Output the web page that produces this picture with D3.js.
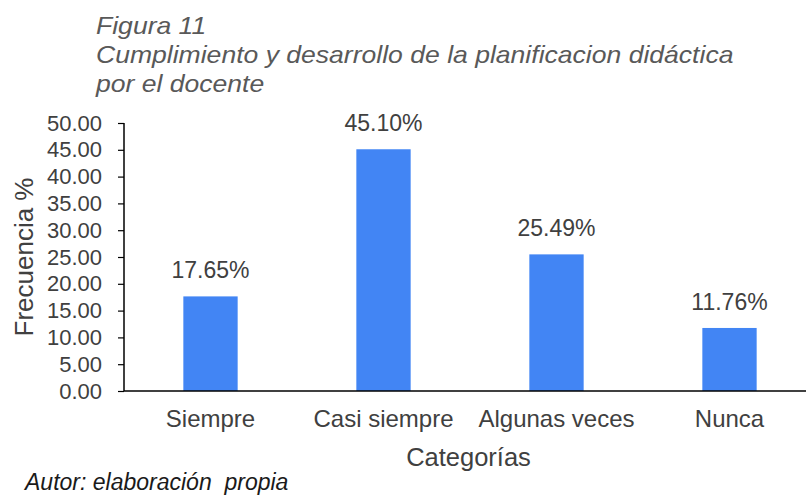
<!DOCTYPE html>
<html>
<head>
<meta charset="utf-8">
<script src="https://cdn.jsdelivr.net/npm/d3@7"></script>
<style>
  html, body { margin: 0; padding: 0; background: #fff; }
  svg text { font-family: "Liberation Sans", Arial, sans-serif; white-space: pre; }
</style>
</head>
<body>
<svg id="chart" width="806" height="496"></svg>
<script>
const categories = ["Siempre", "Casi siempre", "Algunas veces", "Nunca"];
const values = [17.65, 45.10, 25.49, 11.76];
const yTicks = [0, 5, 10, 15, 20, 25, 30, 35, 40, 45, 50];
const titleLines = ["Figura 11", "Cumplimiento y desarrollo de la planificacion didáctica", "por el docente"];
const xTitle = "Categorías";
const yTitle = "Frecuencia %";
const source = "Autor: elaboración  propia";

const svg = d3.select("#chart");
const mLeft = 124, mRight = 816, mTop = 123, mBottom = 391;

const x = d3.scaleBand().domain(categories).range([mLeft, mRight])
  .paddingInner(0.686).paddingOuter(0.343);
const y = d3.scaleLinear().domain([0, 50]).range([mBottom, mTop]);

// Title
svg.append("g").attr("transform", "translate(96,0) scale(1.155,1)")
  .selectAll("text").data(titleLines).join("text")
  .attr("x", 0).attr("y", (d, i) => 34 + i * 29)
  .attr("font-size", 23).attr("font-style", "italic").attr("fill", "#595959")
  .text(d => d);

// Bars
svg.append("g").selectAll("rect").data(values).join("rect")
  .attr("x", (d, i) => x(categories[i]))
  .attr("width", x.bandwidth())
  .attr("y", d => y(d))
  .attr("height", d => y(0) - y(d))
  .attr("fill", "#4285F4");

// Value labels
svg.append("g").selectAll("text").data(values).join("text")
  .attr("x", (d, i) => x(categories[i]) + x.bandwidth() / 2)
  .attr("y", d => y(d) - 18)
  .attr("text-anchor", "middle").attr("font-size", 23).attr("fill", "#404040")
  .text(d => d.toFixed(2) + "%");

// Y axis
const yAxis = svg.append("g").attr("transform", `translate(${mLeft},0)`)
  .call(d3.axisLeft(y).tickValues(yTicks).tickFormat(d3.format(".2f")).tickSize(6).tickPadding(16));
yAxis.select(".domain").attr("stroke", "#000").attr("stroke-width", 1.5).attr("d", `M0,${mTop}V${mBottom}`);
yAxis.selectAll(".tick line").attr("stroke", "#000").attr("stroke-width", 1.2);
yAxis.selectAll(".tick text").attr("font-size", 22).attr("fill", "#404040")
  .attr("font-family", "Liberation Sans, Arial, sans-serif");

// X axis
const xAxis = svg.append("g").attr("transform", `translate(0,${mBottom})`)
  .call(d3.axisBottom(x).tickSize(0).tickPadding(19));
xAxis.select(".domain").attr("stroke", "#000").attr("stroke-width", 1.5).attr("d", `M${mLeft},0H806`);
xAxis.selectAll(".tick text").attr("font-size", 24).attr("fill", "#404040")
  .attr("font-family", "Liberation Sans, Arial, sans-serif");

// Axis titles
svg.append("text").attr("x", 468.5).attr("y", 466)
  .attr("text-anchor", "middle").attr("font-size", 25.5).attr("fill", "#404040").text(xTitle);
svg.append("text").attr("transform", `translate(33,${(mTop + mBottom) / 2}) rotate(-90)`)
  .attr("text-anchor", "middle").attr("font-size", 26).attr("fill", "#404040").text(yTitle);

// Source
svg.append("text").attr("x", 25).attr("y", 490)
  .attr("font-size", 23).attr("font-style", "italic").attr("fill", "#1a1a1a").text(source);
</script>
</body>
</html>
